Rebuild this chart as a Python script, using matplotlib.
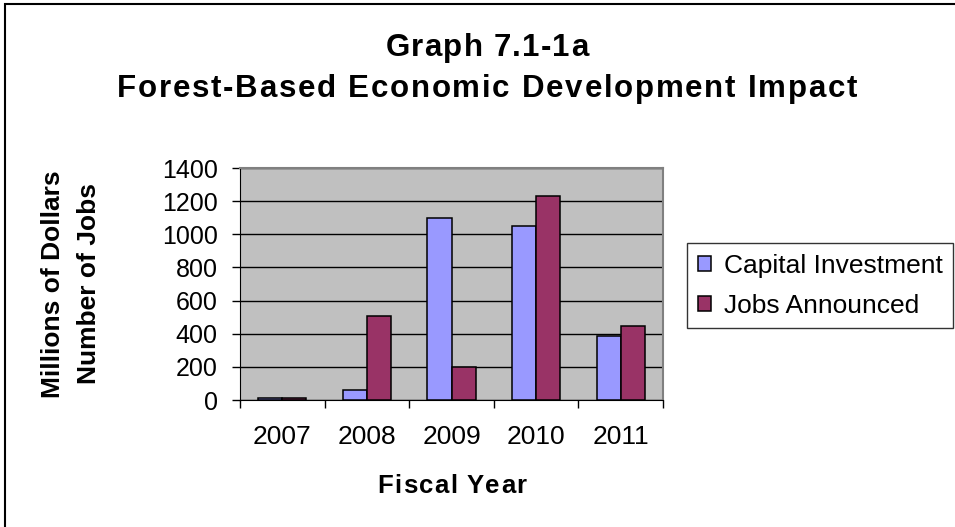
import matplotlib.pyplot as plt
import numpy as np
from matplotlib.font_manager import FontProperties, findfont
from matplotlib.ft2font import FT2Font
from matplotlib.patches import Rectangle

# Chart data
years = ["2007", "2008", "2009", "2010", "2011"]
capital_investment = [10, 60, 1100, 1050, 385]
jobs_announced = [10, 505, 200, 1230, 445]

CAPITAL_COLOR = "#9999ff"
JOBS_COLOR = "#993366"
PLOT_BG = "#c0c0c0"
FONT = ["Liberation Sans", "DejaVu Sans"]

plt.rcParams["font.family"] = FONT

W, H = 955, 527
DPI = 100
fig = plt.figure(figsize=(W / DPI, H / DPI), dpi=DPI)


def spaced_text(s, x_center, y_base, width, size, weight="bold"):
    """Draw s letter by letter so that it spans `width` pixels, centred on x_center."""
    prop = FontProperties(family=FONT, weight=weight, size=size)
    font = FT2Font(findfont(prop))
    font.set_size(size, 72)
    adv = [font.load_char(ord(c)).linearHoriAdvance / 65536 * DPI / 72 for c in s]
    gap = (width - sum(adv)) / max(len(s) - 1, 1)
    x = x_center - width / 2
    for c, a in zip(s, adv):
        fig.text(x / W, 1 - y_base / H, c, fontproperties=prop,
                 ha="left", va="baseline")
        x += a + gap


# Outer chart frame (only top and left edges fall inside the image)
fig.patches.append(
    Rectangle((5 / W, -0.1), 1.2, 1 - 4 / H + 0.1, transform=fig.transFigure,
              fill=False, edgecolor="black", lw=1.5)
)

# Plot area in pixel coordinates
left, right, top, bottom = 240, 663, 168, 400
ax = fig.add_axes([left / W, 1 - bottom / H, (right - left) / W, (bottom - top) / H])
ax.set_facecolor(PLOT_BG)

x = np.arange(len(years))
width = 0.286
ax.bar(x - width / 2, capital_investment, width, color=CAPITAL_COLOR,
       edgecolor="black", lw=1.1, label="Capital Investment", zorder=3)
ax.bar(x + width / 2, jobs_announced, width, color=JOBS_COLOR,
       edgecolor="black", lw=1.1, label="Jobs Announced", zorder=3)

ax.set_xlim(-0.5, len(years) - 0.5)
ax.set_ylim(0, 1400)
ax.set_yticks(range(0, 1401, 200))
ax.yaxis.grid(True, color="black", lw=1)
ax.set_axisbelow(True)

# Category labels sit between the boundary ticks
ax.set_xticks(x)
ax.set_xticklabels(years, fontsize=19)
ax.set_xticks(np.arange(-0.5, len(years)), minor=True)
ax.tick_params(axis="x", which="major", length=0, pad=18)
ax.tick_params(axis="x", which="minor", length=6, width=1, direction="out")
ax.tick_params(axis="y", length=6, width=1, direction="out", labelsize=18, pad=10)

for side in ("top", "right"):
    ax.spines[side].set_color("#808080")
    ax.spines[side].set_linewidth(1.5)
ax.spines["left"].set_color("black")
ax.spines["bottom"].set_color("black")

# Axis titles
spaced_text("Fiscal Year", 452, 493, 149, 18.5)
fig.text(52.5 / W, 1 - 284 / H, "Millions of Dollars", rotation=90,
         ha="center", va="center", fontsize=19, fontweight="bold")
fig.text(89 / W, 1 - 284 / H, "Number of Jobs", rotation=90,
         ha="center", va="center", fontsize=19, fontweight="bold")

# Chart title
spaced_text("Graph 7.1-1a", 487, 56, 203, 22.5)
spaced_text("Forest-Based Economic Development Impact", 487, 97, 740, 22.5)

leg = ax.legend(loc="upper left", bbox_to_anchor=(687 / W, 1 - 243 / H),
                bbox_transform=fig.transFigure, fontsize=19, frameon=True,
                fancybox=False, edgecolor="black", handlelength=0.5,
                handleheight=0.5, handletextpad=0.5, labelspacing=0.62,
                borderpad=0.4, borderaxespad=0)
leg.get_frame().set_linewidth(1)

fig.savefig("out.png", dpi=DPI, facecolor="white")
